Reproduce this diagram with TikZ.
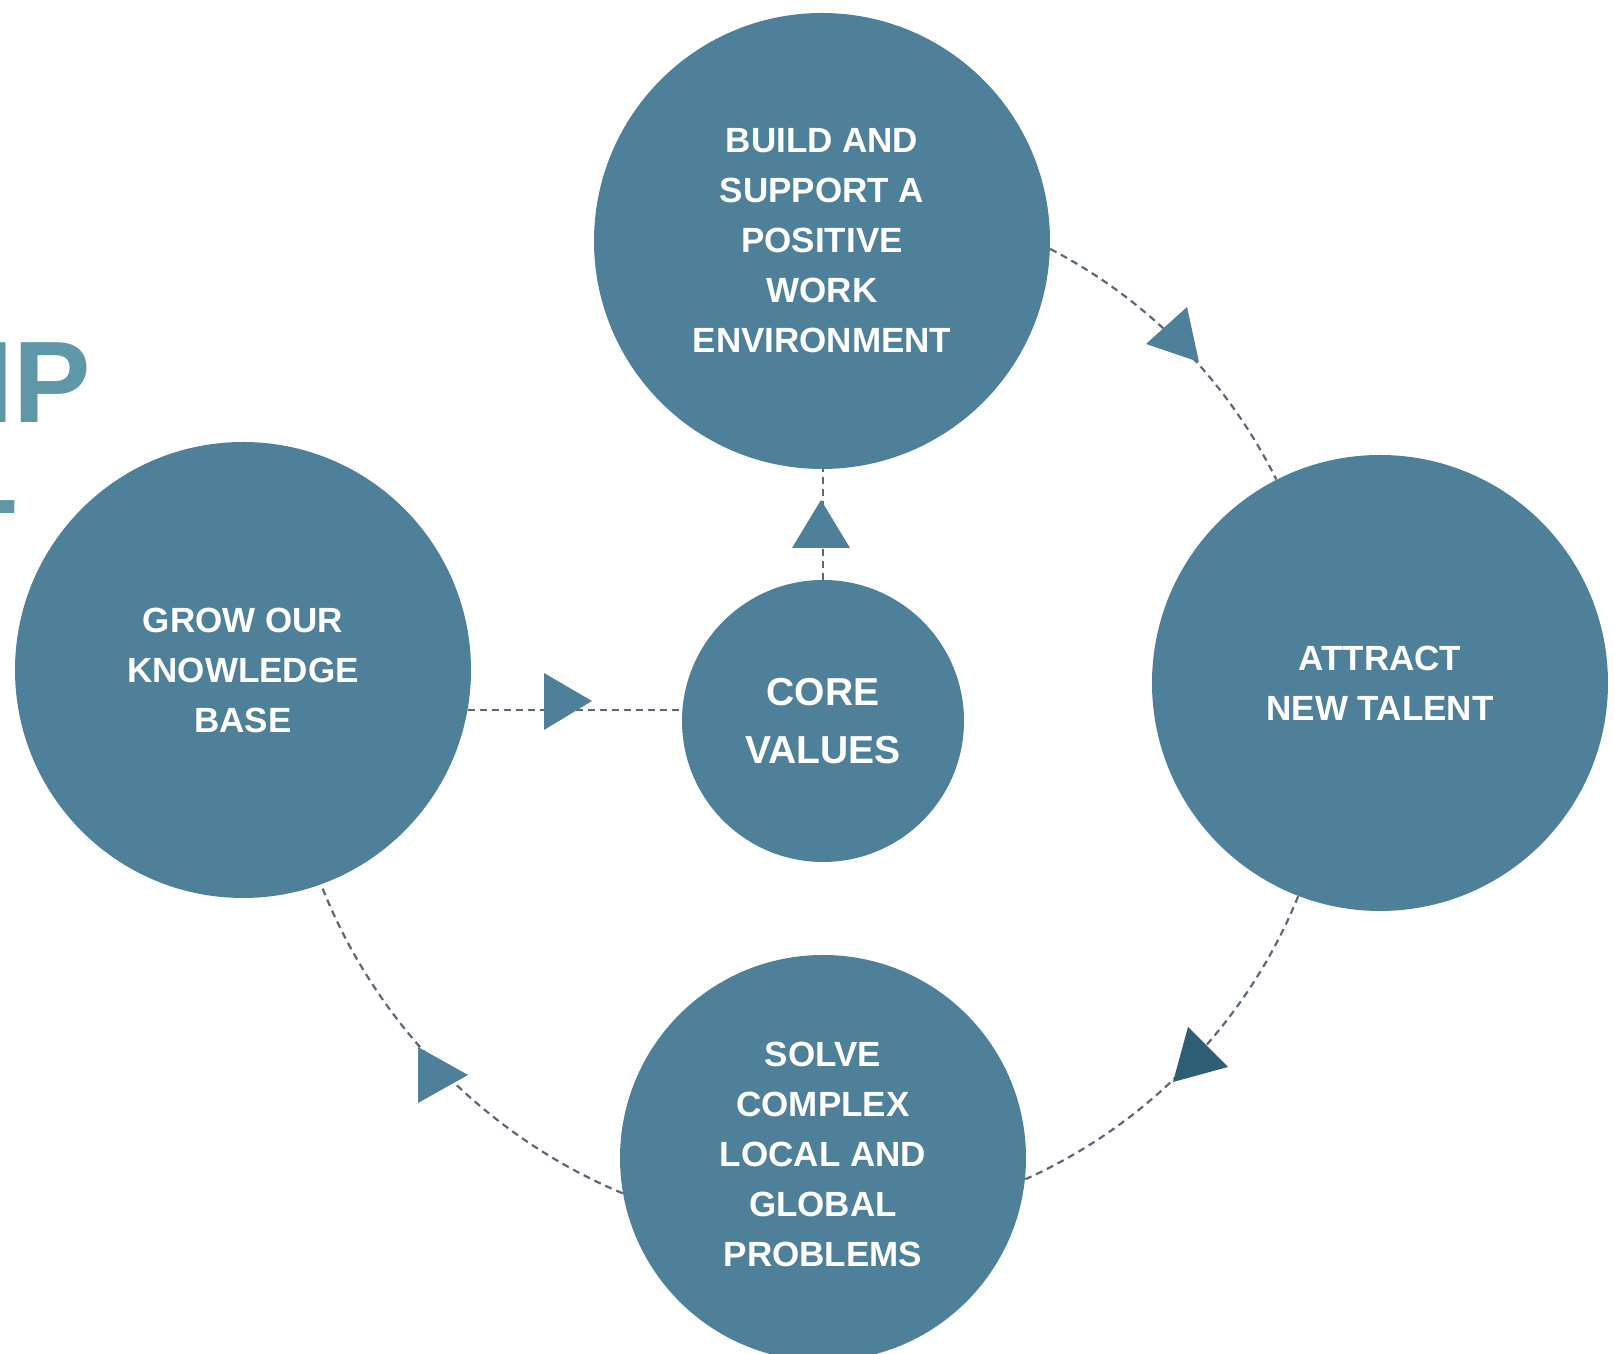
\documentclass[tikz,border=0pt]{standalone}
\usepackage{fontspec}
\setmainfont{Liberation Sans}
\definecolor{bubc}{RGB}{78,128,153}
\definecolor{darktri}{RGB}{46,94,116}
\definecolor{linkc}{RGB}{92,104,122}
\definecolor{ipc}{RGB}{94,151,168}
\begin{document}
\begin{tikzpicture}[x=0.5pt,y=0.5pt,
  bub/.style={circle, fill=bubc, inner sep=0pt, text=white,
    font=\bfseries\fontsize{17.5}{25}\selectfont, align=center},
  bubtext/.style={inner sep=0pt, text=white,
    font=\bfseries\fontsize{17.5}{25}\selectfont, align=center},
  link/.style={draw=linkc, line width=1.1pt, dash pattern=on 3.5pt off 2.5pt},
  tri/.style={fill=bubc},
  title/.style={inner sep=0pt, anchor=base west, text=ipc,
    font=\bfseries\fontsize{58}{58}\selectfont}]
\useasboundingbox (0,0) rectangle (1614,1354);
\clip (0,0) rectangle (1614,1354);
% title fragments cut by the left edge
\node[title] (ttl1) at (-19,931) {IP};
\node[title] (ttl2) at (-53,840) {L};
% bubbles
\node[bub, minimum size=228pt] (top) at (822,1113)
  {BUILD AND\\SUPPORT A\\POSITIVE\\WORK\\ENVIRONMENT};
\node[bub, minimum size=228pt] (left) at (243,684)
  {GROW OUR\\KNOWLEDGE\\BASE};
\node[bub, minimum size=228pt] (right) at (1380,671)
  {ATTRACT\\NEW TALENT};
\node[bub, minimum size=141pt, font=\bfseries\fontsize{19.5}{29}\selectfont]
  (core) at (823,633) {CORE\\VALUES};
\node[bub, minimum size=203pt] (bottom) at (823,196) {};
\node[bubtext] (bottomtext) at (823,200)
  {SOLVE\\COMPLEX\\LOCAL AND\\GLOBAL\\PROBLEMS};
% connectors
\draw[link] (top.-2) to[bend left=18, looseness=0.88] (right.117);
\draw[link] (right.249) to[bend left=22, looseness=0.88] (bottom.-6);
\draw[link] (bottom.190) to[bend left=23, looseness=0.88] (left.-70);
\draw[link] (core.north) -- (core.north |- top.south);
\draw[link] (left.-10.4) -- (core.west |- left.-10.4);
% triangles
\fill[tri] (1187,1047) -- (1146,1010) -- (1199,992) -- cycle;
\fill[darktri] (1188,327) -- (1228,287) -- (1173,272) -- cycle;
\fill[tri] (418,307) -- (468,279) -- (418,251) -- cycle;
\fill[tri] (821,854) -- (792,806) -- (850,806) -- cycle;
\fill[tri] (544,681) -- (544,624) -- (592,653) -- cycle;
\end{tikzpicture}
\end{document}
